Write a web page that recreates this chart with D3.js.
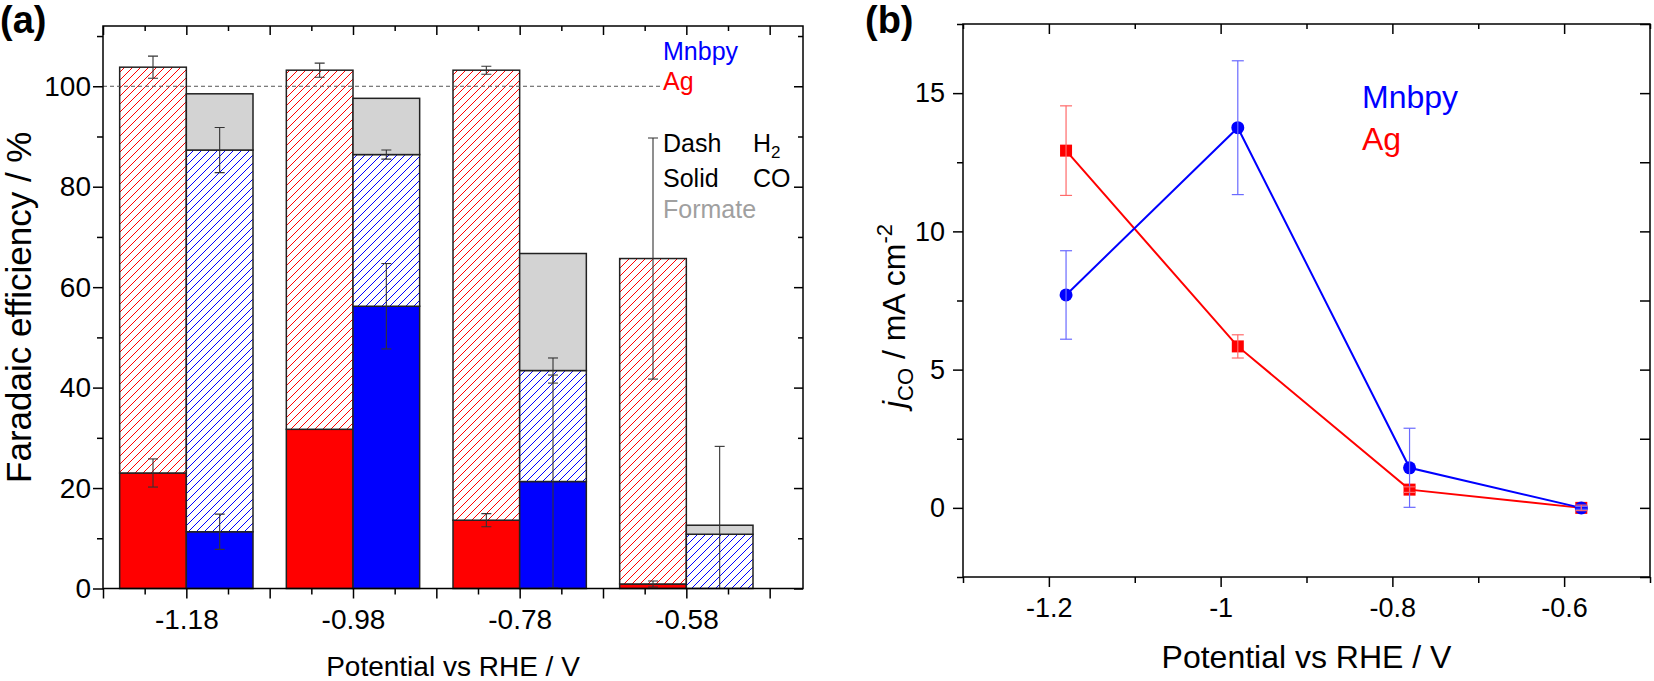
<!DOCTYPE html>
<html>
<head>
<meta charset="utf-8">
<script src="https://cdn.jsdelivr.net/npm/d3@7"></script>
<style>
  body { margin: 0; background: #fff; }
  text { font-family: 'Liberation Sans', Arial, sans-serif; }
</style>
</head>
<body>
<div id="chart"></div>
<script>
// ---- panel (a): faradaic efficiency ----
const potentials = [-1.18, -0.98, -0.78, -0.58];
const xTickLabels = ['-1.18', '-0.98', '-0.78', '-0.58'];
const agCO = [23.0, 31.7, 13.6, 0.9];
const agCOErr = [2.8, 0, 1.3, 0.6];
const agH2 = [80.8, 71.5, 89.6, 64.8];
const agTotalErr = [2.2, 1.4, 0.8, 24.0];
const mnCO = [11.3, 56.2, 21.3, 0];
const mnCOErr = [3.5, 8.5, 21.2, 0];
const mnH2 = [76.0, 30.2, 22.1, 10.8];
const mnH2Err = [4.5, 0.9, 2.5, 17.5];
const mnFormate = [11.2, 11.2, 23.3, 1.8];
const feTicks = [0, 20, 40, 60, 80, 100];

// ---- panel (b): CO partial current density ----
const jPotentials = [-1.18, -0.98, -0.78, -0.58];
const jMnbpy = [7.7, 13.75, 1.45, 0];
const jMnbpyErr = [1.6, 2.42, 1.43, 0.05];
const jAg = [12.92, 5.84, 0.66, 0];
const jAgErr = [1.62, 0.42, 0.1, 0.1];
const jXTicks = [-1.2, -1.0, -0.8, -0.6];
const jXTickLabels = ['-1.2', '-1', '-0.8', '-0.6'];
const jYTicks = [0, 5, 10, 15];

const RED = '#ff0000';
const BLUE = '#0000ff';

const svg = d3.select('#chart').append('svg')
    .attr('width', 1654)
    .attr('height', 681);

const defs = svg.append('defs');

function hatch(id, color) {
    const p = defs.append('pattern')
        .attr('id', id)
        .attr('patternUnits', 'userSpaceOnUse')
        .attr('width', 8)
        .attr('height', 8);
    p.append('rect').attr('width', 8).attr('height', 8).attr('fill', '#fff');
    p.append('path')
        .attr('d', 'M-2,2 L2,-2 M0,8 L8,0 M6,10 L10,6')
        .attr('stroke', color)
        .attr('stroke-width', 1);
}
hatch('hatchRed', RED);
hatch('hatchBlue', BLUE);

function styleAxis(g, size) {
    g.select('.domain').remove();
    g.selectAll('line').attr('stroke', '#000').attr('stroke-width', 1.5);
    g.selectAll('text')
        .attr('fill', '#000')
        .style('font-size', size + 'px')
        .style('font-family', "'Liberation Sans', Arial, sans-serif");
}

// ================= panel (a) =================
(function drawPanelA() {
    const left = 103, right = 803, top = 26, bottom = 588.5;

    const x = d3.scaleLinear().domain([-1.28, -0.44]).range([left, right]);
    const y = d3.scaleLinear().domain([0, 112]).range([bottom, top]);
    const barW = 0.08;

    defs.append('clipPath').attr('id', 'clipA')
        .append('rect')
        .attr('x', left).attr('y', top)
        .attr('width', right - left).attr('height', bottom - top);

    const majorX = d3.range(0, 9).map(i => -1.28 + i * 0.1);
    const minorX = d3.range(0, 8).map(i => -1.23 + i * 0.1);
    const minorY = [10, 30, 50, 70, 90, 110];
    const labelFor = v => {
        const i = potentials.findIndex(p => Math.abs(p - v) < 1e-6);
        return i >= 0 ? xTickLabels[i] : '';
    };

    // bars
    const bars = svg.append('g');
    potentials.forEach((p, i) => {
        // Ag bar (left of tick)
        const ax = x(p - barW), aw = x(p) - x(p - barW);
        bars.append('rect')
            .attr('x', ax).attr('y', y(agCO[i]))
            .attr('width', aw).attr('height', y(0) - y(agCO[i]))
            .attr('fill', RED).attr('stroke', '#222').attr('stroke-width', 1.5);
        bars.append('rect')
            .attr('x', ax).attr('y', y(agCO[i] + agH2[i]))
            .attr('width', aw).attr('height', y(agCO[i]) - y(agCO[i] + agH2[i]))
            .attr('fill', 'url(#hatchRed)').attr('stroke', '#222').attr('stroke-width', 1.5);

        // Mnbpy bar (right of tick)
        const mx = x(p), mw = x(p + barW) - x(p);
        if (mnCO[i] > 0) {
            bars.append('rect')
                .attr('x', mx).attr('y', y(mnCO[i]))
                .attr('width', mw).attr('height', y(0) - y(mnCO[i]))
                .attr('fill', BLUE).attr('stroke', '#222').attr('stroke-width', 1.5);
        }
        bars.append('rect')
            .attr('x', mx).attr('y', y(mnCO[i] + mnH2[i]))
            .attr('width', mw).attr('height', y(mnCO[i]) - y(mnCO[i] + mnH2[i]))
            .attr('fill', 'url(#hatchBlue)').attr('stroke', '#222').attr('stroke-width', 1.5);
        const mTop = mnCO[i] + mnH2[i];
        bars.append('rect')
            .attr('x', mx).attr('y', y(mTop + mnFormate[i]))
            .attr('width', mw).attr('height', y(mTop) - y(mTop + mnFormate[i]))
            .attr('fill', '#d3d3d3').attr('stroke', '#222').attr('stroke-width', 1.5);
    });

    // 100 % reference line
    svg.append('line')
        .attr('x1', left).attr('x2', 660)
        .attr('y1', y(100)).attr('y2', y(100))
        .attr('stroke', '#555').attr('stroke-width', 1)
        .attr('stroke-dasharray', '4,3');

    // error bars
    const errs = [];
    potentials.forEach((p, i) => {
        if (agCOErr[i] > 0) errs.push({ xv: p - barW / 2, v: agCO[i], e: agCOErr[i] });
        errs.push({ xv: p - barW / 2, v: agCO[i] + agH2[i], e: agTotalErr[i] });
        if (mnCOErr[i] > 0) errs.push({ xv: p + barW / 2, v: mnCO[i], e: mnCOErr[i] });
        errs.push({ xv: p + barW / 2, v: mnCO[i] + mnH2[i], e: mnH2Err[i] });
    });
    const eg = svg.append('g').attr('clip-path', 'url(#clipA)')
        .attr('stroke', '#333').attr('stroke-width', 1.1);
    errs.forEach(d => {
        const cx = x(d.xv);
        eg.append('line').attr('x1', cx).attr('x2', cx)
            .attr('y1', y(d.v - d.e)).attr('y2', y(d.v + d.e));
        [d.v - d.e, d.v + d.e].forEach(v => {
            eg.append('line').attr('x1', cx - 5).attr('x2', cx + 5)
                .attr('y1', y(v)).attr('y2', y(v));
        });
    });

    // frame
    svg.append('rect')
        .attr('x', left).attr('y', top)
        .attr('width', right - left).attr('height', bottom - top)
        .attr('fill', 'none').attr('stroke', '#000').attr('stroke-width', 1.5);

    // axes
    const xb = svg.append('g').attr('transform', `translate(0,${bottom})`)
        .call(d3.axisBottom(x).tickValues(majorX).tickSize(10).tickPadding(11).tickFormat(labelFor));
    styleAxis(xb, 28);
    styleAxis(svg.append('g').attr('transform', `translate(0,${bottom})`)
        .call(d3.axisBottom(x).tickValues(minorX).tickSize(6).tickFormat('')), 28);
    styleAxis(svg.append('g').attr('transform', `translate(0,${top})`)
        .call(d3.axisTop(x).tickValues(majorX).tickSize(-9).tickFormat('')), 28);
    styleAxis(svg.append('g').attr('transform', `translate(0,${top})`)
        .call(d3.axisTop(x).tickValues(minorX).tickSize(-5).tickFormat('')), 28);

    const yl = svg.append('g').attr('transform', `translate(${left},0)`)
        .call(d3.axisLeft(y).tickValues(feTicks).tickSize(10).tickPadding(2));
    styleAxis(yl, 28);
    styleAxis(svg.append('g').attr('transform', `translate(${left},0)`)
        .call(d3.axisLeft(y).tickValues(minorY).tickSize(6).tickFormat('')), 28);
    styleAxis(svg.append('g').attr('transform', `translate(${right},0)`)
        .call(d3.axisRight(y).tickValues(feTicks).tickSize(-9).tickFormat('')), 28);
    styleAxis(svg.append('g').attr('transform', `translate(${right},0)`)
        .call(d3.axisRight(y).tickValues(minorY).tickSize(-5).tickFormat('')), 28);

    // titles
    svg.append('text')
        .attr('transform', `translate(31,${(top + bottom) / 2}) rotate(-90)`)
        .attr('text-anchor', 'middle')
        .style('font-size', '35px')
        .text('Faradaic efficiency / %');
    svg.append('text')
        .attr('x', (left + right) / 2).attr('y', 676)
        .attr('text-anchor', 'middle')
        .style('font-size', '28px')
        .text('Potential vs RHE / V');
    svg.append('text')
        .attr('x', 0).attr('y', 33)
        .style('font-size', '38px').style('font-weight', 'bold')
        .text('(a)');

    // legend
    const lg = svg.append('g').style('font-size', '25px');
    lg.append('text').attr('x', 663).attr('y', 60).attr('fill', BLUE).text('Mnbpy');
    lg.append('text').attr('x', 663).attr('y', 90).attr('fill', RED).text('Ag');
    lg.append('text').attr('x', 663).attr('y', 152).text('Dash');
    const h2 = lg.append('text').attr('x', 753).attr('y', 152);
    h2.append('tspan').text('H');
    h2.append('tspan').attr('dy', 6).style('font-size', '17px').text('2');
    lg.append('text').attr('x', 663).attr('y', 187).text('Solid');
    lg.append('text').attr('x', 753).attr('y', 187).text('CO');
    lg.append('text').attr('x', 663).attr('y', 218).attr('fill', '#a0a0a0').text('Formate');
})();

// ================= panel (b) =================
(function drawPanelB() {
    const left = 963, right = 1650, top = 24, bottom = 577;

    const x = d3.scaleLinear().domain([-1.3, -0.5]).range([left, right]);
    const y = d3.scaleLinear().domain([-2.5, 17.5]).range([bottom, top]);

    const minorX = [-1.3, -1.1, -0.9, -0.7, -0.5];
    const minorY = [-2.5, 2.5, 7.5, 12.5, 17.5];

    const line = d3.line()
        .x((d, i) => x(jPotentials[i]))
        .y(d => y(d));

    svg.append('path').datum(jAg)
        .attr('d', line).attr('fill', 'none')
        .attr('stroke', RED).attr('stroke-width', 2);
    svg.append('path').datum(jMnbpy)
        .attr('d', line).attr('fill', 'none')
        .attr('stroke', BLUE).attr('stroke-width', 2);

    svg.selectAll('.sq')
        .data(jAg)
        .enter()
        .append('rect')
        .attr('class', 'sq')
        .attr('x', (d, i) => x(jPotentials[i]) - 6)
        .attr('y', d => y(d) - 6)
        .attr('width', 12).attr('height', 12)
        .attr('fill', RED);

    svg.selectAll('.dot')
        .data(jMnbpy)
        .enter()
        .append('circle')
        .attr('class', 'dot')
        .attr('cx', (d, i) => x(jPotentials[i]))
        .attr('cy', d => y(d))
        .attr('r', 6.5)
        .attr('fill', BLUE);

    function errorBars(vals, errs, color) {
        const g = svg.append('g').attr('stroke', color).attr('stroke-width', 1.2);
        vals.forEach((v, i) => {
            const cx = x(jPotentials[i]);
            g.append('line').attr('x1', cx).attr('x2', cx)
                .attr('y1', y(v - errs[i])).attr('y2', y(v + errs[i]));
            [v - errs[i], v + errs[i]].forEach(e => {
                g.append('line').attr('x1', cx - 6).attr('x2', cx + 6)
                    .attr('y1', y(e)).attr('y2', y(e));
            });
        });
    }
    errorBars(jMnbpy, jMnbpyErr, '#6a6aff');
    errorBars(jAg, jAgErr, '#ff6a6a');

    // frame
    svg.append('rect')
        .attr('x', left).attr('y', top)
        .attr('width', right - left).attr('height', bottom - top)
        .attr('fill', 'none').attr('stroke', '#000').attr('stroke-width', 1.5);

    const xb = svg.append('g').attr('transform', `translate(0,${bottom})`)
        .call(d3.axisBottom(x).tickValues(jXTicks).tickSize(10).tickPadding(11)
            .tickFormat((d, i) => jXTickLabels[i]));
    styleAxis(xb, 27);
    styleAxis(svg.append('g').attr('transform', `translate(0,${bottom})`)
        .call(d3.axisBottom(x).tickValues(minorX).tickSize(6).tickFormat('')), 27);
    styleAxis(svg.append('g').attr('transform', `translate(0,${top})`)
        .call(d3.axisTop(x).tickValues(jXTicks).tickSize(-10).tickFormat('')), 27);
    styleAxis(svg.append('g').attr('transform', `translate(0,${top})`)
        .call(d3.axisTop(x).tickValues(minorX).tickSize(-5).tickFormat('')), 27);

    const yl = svg.append('g').attr('transform', `translate(${left},0)`)
        .call(d3.axisLeft(y).tickValues(jYTicks).tickSize(10).tickPadding(8));
    styleAxis(yl, 27);
    styleAxis(svg.append('g').attr('transform', `translate(${left},0)`)
        .call(d3.axisLeft(y).tickValues(minorY).tickSize(6).tickFormat('')), 27);
    styleAxis(svg.append('g').attr('transform', `translate(${right},0)`)
        .call(d3.axisRight(y).tickValues(jYTicks).tickSize(-10).tickFormat('')), 27);
    styleAxis(svg.append('g').attr('transform', `translate(${right},0)`)
        .call(d3.axisRight(y).tickValues(minorY).tickSize(-10).tickFormat('')), 27);

    // titles
    svg.append('text')
        .attr('x', (left + right) / 2).attr('y', 668)
        .attr('text-anchor', 'middle')
        .style('font-size', '32px')
        .text('Potential vs RHE / V');

    const yt = svg.append('text')
        .attr('transform', `translate(905,316) rotate(-90)`)
        .attr('text-anchor', 'middle')
        .style('font-size', '32px');
    yt.append('tspan').style('font-style', 'italic').text('j');
    yt.append('tspan').attr('dy', 8).style('font-size', '22px').text('CO');
    yt.append('tspan').attr('dy', -8).text(' / mA cm');
    yt.append('tspan').attr('dy', -13).style('font-size', '22px').text('-2');

    svg.append('text')
        .attr('x', 865).attr('y', 33)
        .style('font-size', '38px').style('font-weight', 'bold')
        .text('(b)');

    svg.append('text').attr('x', 1362).attr('y', 108)
        .attr('fill', BLUE).style('font-size', '32px').text('Mnbpy');
    svg.append('text').attr('x', 1362).attr('y', 150)
        .attr('fill', RED).style('font-size', '32px').text('Ag');
})();
</script>
</body>
</html>
